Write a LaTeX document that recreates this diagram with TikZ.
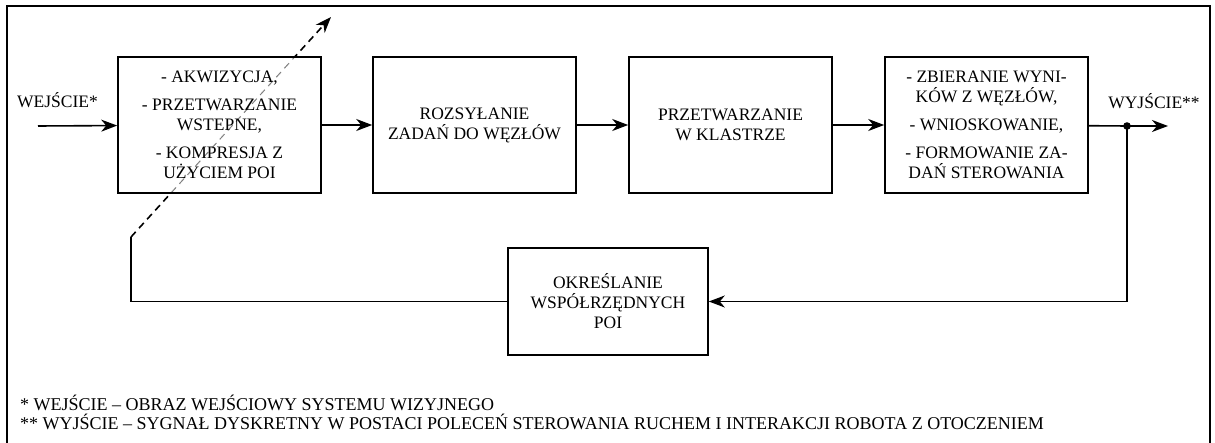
\documentclass[tikz,border=0pt]{standalone}
\usepackage{fontspec}
\setmainfont{Liberation Serif}
\usetikzlibrary{arrows.meta}
\begin{document}
\begin{tikzpicture}[x=1pt,y=-1pt,
  font=\fontsize{17.5}{20}\selectfont,
  blok/.style={draw, line width=1.6pt, minimum width=203pt, minimum height=136pt, align=center, inner sep=0pt},
  tip/.style={-{Stealth[length=16pt,width=12pt,inset=5pt]}},
  conn/.style={line width=1.6pt, tip},
  plain/.style={line width=1.6pt},
  dashline/.style={line width=1.6pt, dash pattern=on 7pt off 5pt},
  lbl/.style={inner sep=0pt},
  foot/.style={inner sep=0pt, anchor=base west, font=\fontsize{18}{20}\selectfont}]
\useasboundingbox (0,0) rectangle (1215,443);
% frame
\draw[line width=2.6pt] (7,443) -- (7,6) -- (1210,6) -- (1210,443);
% dashed bypass arrow
\coordinate (c1) at (131,237);
\coordinate (c2) at (331,17);
\draw[dashline, tip] (c1) -- (c2);
\begin{scope}
  \clip (119.5,58.5) rectangle (319.5,191.5);
  \draw[white, line width=2.8pt] (c1) -- (c2);
  \draw[gray, line width=1pt, dash pattern=on 7pt off 5pt] (c1) -- (c2);
\end{scope}
% blocks
\node[blok] (b1) at (219.5,125) {- AKWIZYCJA,\\[8pt] - PRZETWARZANIE\\ WSTEPNE,\\[8pt] - KOMPRESJA Z\\ UŻYCIEM POI};
\node[blok] (b2) at (474.5,125) {ROZSYŁANIE\\ ZADAŃ DO WĘZŁÓW};
\node[blok] (b3) at (730.5,125) {PRZETWARZANIE\\ W KLASTRZE};
\node[blok] (b4) at (986.5,125) {- ZBIERANIE WYNI-\\ KÓW Z WĘZŁÓW,\\[8pt] - WNIOSKOWANIE,\\[8pt] - FORMOWANIE ZA-\\ DAŃ STEROWANIA};
\node[blok, minimum width=200pt, minimum height=107pt] (b5) at (608,301.5) {OKREŚLANIE\\ WSPÓŁRZĘDNYCH\\ POI};
% labels
\node[lbl] (win) at (57.5,100) {WEJŚCIE*};
\node[lbl] (wout) at (1154,101) {WYJŚCIE**};
% connectors
\coordinate (in) at (38,126);
\coordinate (j) at (1127,126);
\coordinate (out) at (1168,126);
\draw[conn] (in) -- (b1);
\draw[conn] (b1) -- (b2);
\draw[conn] (b2) -- (b3);
\draw[conn] (b3) -- (b4);
\draw[plain] (b4) -- (j);
\draw[conn] (j) -- (out);
\fill (j) circle (3.8pt);
\draw[conn] (j) |- (b5.east);
\draw[plain] (b5.west) -| (c1);
% footnotes
\node[foot] (f1) at (20,410) {* WEJŚCIE – OBRAZ WEJŚCIOWY SYSTEMU WIZYJNEGO};
\node[foot] (f2) at (20,429) {** WYJŚCIE – SYGNAŁ DYSKRETNY W POSTACI POLECEŃ STEROWANIA RUCHEM I INTERAKCJI ROBOTA Z OTOCZENIEM};
\end{tikzpicture}
\end{document}
